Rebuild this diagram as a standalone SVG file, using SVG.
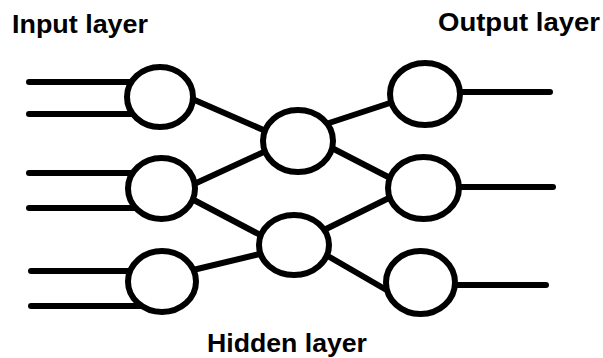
<svg xmlns="http://www.w3.org/2000/svg" width="603" height="358" viewBox="0 0 603 358">
<style>
.n{fill:#fff;stroke:#000;stroke-width:6}
.c line{stroke:#000;stroke-width:6;stroke-linecap:round}
.t{font-family:"Liberation Sans",Arial,sans-serif;font-weight:bold;font-size:25px;fill:#000}
</style>
<rect width="603" height="358" fill="#fff"/>
<g class="c" id="connectors">
<line x1="29" y1="82" x2="140" y2="82"/>
<line x1="29" y1="114" x2="140" y2="114"/>
<line x1="29" y1="173" x2="140" y2="173"/>
<line x1="29" y1="208" x2="140" y2="208"/>
<line x1="31" y1="271" x2="140" y2="271"/>
<line x1="31" y1="306" x2="140" y2="306"/>
<line x1="440" y1="92" x2="550" y2="92"/>
<line x1="440" y1="187" x2="553" y2="187"/>
<line x1="440" y1="285" x2="546" y2="285"/>
<line x1="190" y1="98" x2="268" y2="132"/>
<line x1="192" y1="185" x2="268" y2="150"/>
<line x1="190" y1="198" x2="266" y2="238"/>
<line x1="193" y1="270" x2="264" y2="253"/>
<line x1="326" y1="124" x2="396" y2="101"/>
<line x1="328" y1="146" x2="394" y2="180"/>
<line x1="324" y1="230" x2="393" y2="196"/>
<line x1="326" y1="255" x2="390" y2="292"/>
</g>
<g id="in1"><ellipse class="n" cx="160" cy="97" rx="33" ry="30"/></g>
<g id="in2"><ellipse class="n" cx="161.5" cy="188.5" rx="33.5" ry="30.5"/></g>
<g id="in3"><ellipse class="n" cx="162" cy="281.5" rx="34" ry="30.5"/></g>
<g id="h1"><ellipse class="n" cx="298" cy="141" rx="35" ry="31"/></g>
<g id="h2"><ellipse class="n" cx="294" cy="245" rx="35" ry="30"/></g>
<g id="out1"><ellipse class="n" cx="425" cy="94" rx="35" ry="31"/></g>
<g id="out2"><ellipse class="n" cx="423.5" cy="188" rx="35.5" ry="31"/></g>
<g id="out3"><ellipse class="n" cx="420.5" cy="282.5" rx="34.5" ry="31.5"/></g>
<g id="labels">
<text class="t" x="12" y="33" textLength="136" lengthAdjust="spacingAndGlyphs">Input layer</text>
<text class="t" x="438" y="31" textLength="162" lengthAdjust="spacingAndGlyphs">Output layer</text>
<text class="t" x="207" y="352" textLength="160" lengthAdjust="spacingAndGlyphs">Hidden layer</text>
</g>
</svg>
